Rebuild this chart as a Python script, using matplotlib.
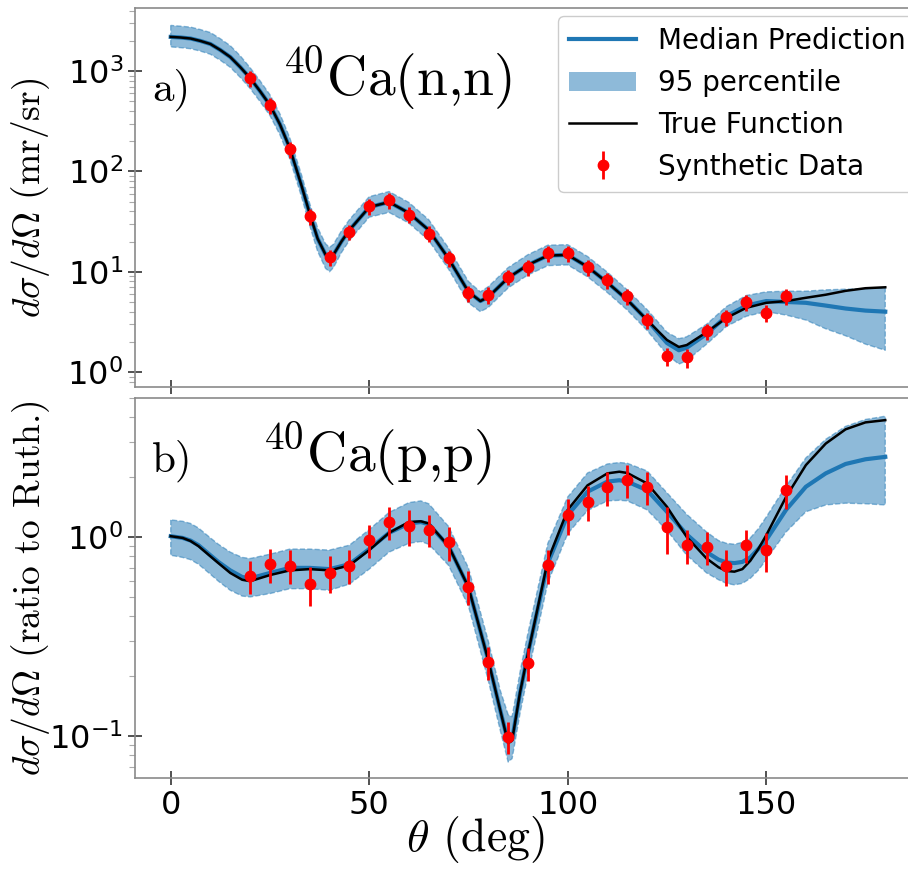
import numpy as np
import matplotlib
matplotlib.use("Agg")
import matplotlib.pyplot as plt
from matplotlib.lines import Line2D
from matplotlib.patches import Patch

# ---- a) 40Ca(n,n) ----
theta_a = [0, 2.5, 5, 7.5, 10, 12.5, 15, 17.5, 20, 22.5, 25, 27.5, 30, 33, 35, 37, 39, 40,
           41, 43, 45, 50, 55, 60, 65, 70, 75, 78, 80, 85, 90, 95, 100, 105, 110, 115,
           120, 125, 128, 130, 135, 140, 145, 150, 155, 160, 165, 170, 175, 180]
true_a = [2190, 2160, 2110, 1995, 1860, 1620, 1380, 1096, 851, 630, 457, 295, 170, 71, 38,
          21.4, 14.8, 13.8, 14.8, 20, 26, 44, 49.5, 38.5, 26, 13.5, 6.3, 5.1, 5.6, 8.7,
          11.7, 14.5, 14.7, 11.2, 7.8, 5.25, 3.3, 2.09, 1.78, 1.86, 2.5, 3.47, 4.37, 4.9,
          5.1, 5.5, 5.9, 6.45, 6.85, 7.0]
med_a = [2190, 2160, 2110, 1995, 1860, 1620, 1380, 1096, 851, 630, 457, 295, 170, 71, 38,
         21.4, 14.8, 13.8, 14.8, 20, 26, 44, 49.5, 38.5, 26, 13.5, 6.3, 5.1, 5.6, 8.7,
         11.7, 14.5, 14.7, 11.2, 7.8, 5.25, 3.3, 1.95, 1.65, 1.75, 2.4, 3.6, 4.6, 5.1,
         5.0, 4.9, 4.6, 4.3, 4.1, 4.0]
lo_a = [1740, 1710, 1670, 1580, 1470, 1280, 1090, 866, 670, 497, 360, 232, 133, 55, 29,
        16, 10.8, 10, 11, 15.5, 20.5, 35, 39, 30.5, 20.5, 10.6, 4.9, 4.0, 4.4, 6.9, 9.3,
        11.5, 11.7, 8.9, 6.2, 4.15, 2.6, 1.5, 1.2, 1.3, 1.9, 2.85, 3.6, 4.0, 3.7, 3.3,
        2.7, 2.3, 1.9, 1.65]
hi_a = [2850, 2800, 2740, 2590, 2420, 2100, 1790, 1420, 1080, 800, 580, 375, 216, 91, 48,
        27.5, 19, 17.5, 18.8, 25.5, 33, 56, 63, 49, 33, 17.2, 8.0, 6.3, 7.1, 11, 14.8,
        18.4, 18.6, 14.2, 9.9, 6.6, 4.2, 2.5, 2.15, 2.25, 3.0, 4.5, 5.8, 6.3, 6.4, 6.4,
        6.6, 6.7, 6.8, 6.9]
data_x = [20, 25, 30, 35, 40, 45, 50, 55, 60, 65, 70, 75, 80, 85, 90, 95, 100, 105,
          110, 115, 120, 125, 130, 135, 140, 145, 150, 155]
data_a = [850, 460, 167, 36, 14, 25, 45, 52, 37, 24, 13.7, 6.1, 5.9, 8.9, 11.1, 15.4,
          15.4, 11.1, 8.3, 5.7, 3.3, 1.44, 1.41, 2.57, 3.5, 5.0, 3.9, 5.7]
err_a = [150, 85, 30, 6.5, 2.6, 4.5, 8, 9.5, 6.7, 4.3, 2.5, 1.1, 1.1, 1.6, 2.0, 2.8,
         2.8, 2.0, 1.5, 1.0, 0.6, 0.3, 0.3, 0.46, 0.63, 0.9, 0.75, 1.0]

# ---- b) 40Ca(p,p) ----
theta_b = [0, 3, 5, 7, 10, 12, 15, 18, 20, 25, 30, 35, 40, 45, 50, 55, 60, 63, 65, 70,
           75, 80, 83, 85, 86, 88, 90, 95, 100, 105, 110, 113, 115, 120, 125, 130, 135,
           138, 140, 142, 144, 146, 148, 150, 155, 160, 165, 170, 175, 180]
true_b = [1.01, 0.99, 0.955, 0.90, 0.80, 0.74, 0.66, 0.61, 0.60, 0.644, 0.68, 0.69, 0.68,
          0.72, 0.86, 1.05, 1.19, 1.20, 1.17, 0.90, 0.56, 0.24, 0.135, 0.092, 0.095,
          0.166, 0.26, 0.765, 1.37, 1.82, 2.09, 2.13, 2.10, 1.86, 1.42, 1.0, 0.78, 0.705,
          0.675, 0.67, 0.69, 0.76, 0.87, 1.02, 1.59, 2.30, 2.95, 3.48, 3.77, 3.87]
med_b = [1.01, 0.99, 0.96, 0.91, 0.81, 0.75, 0.68, 0.63, 0.62, 0.66, 0.70, 0.70, 0.69,
         0.73, 0.87, 1.05, 1.17, 1.19, 1.16, 0.90, 0.56, 0.24, 0.135, 0.093, 0.096,
         0.165, 0.26, 0.74, 1.29, 1.69, 1.90, 1.93, 1.90, 1.72, 1.34, 1.03, 0.84, 0.77,
         0.745, 0.74, 0.75, 0.79, 0.87, 0.966, 1.37, 1.79, 2.09, 2.33, 2.46, 2.53]
lo_b = [0.81, 0.79, 0.77, 0.73, 0.65, 0.60, 0.54, 0.505, 0.50, 0.52, 0.55, 0.55, 0.54,
        0.58, 0.69, 0.84, 0.93, 0.95, 0.92, 0.72, 0.45, 0.19, 0.107, 0.074, 0.077,
        0.13, 0.205, 0.59, 1.04, 1.36, 1.52, 1.53, 1.52, 1.37, 1.08, 0.81, 0.66, 0.61,
        0.585, 0.575, 0.585, 0.62, 0.68, 0.77, 1.06, 1.34, 1.45, 1.48, 1.47, 1.45]
hi_b = [1.22, 1.20, 1.17, 1.11, 0.99, 0.92, 0.84, 0.79, 0.78, 0.82, 0.87, 0.87, 0.86,
        0.91, 1.09, 1.33, 1.49, 1.52, 1.47, 1.13, 0.70, 0.30, 0.17, 0.128, 0.125, 0.21,
        0.33, 0.93, 1.59, 2.10, 2.33, 2.37, 2.35, 2.15, 1.67, 1.30, 1.06, 0.96, 0.93,
        0.92, 0.94, 0.99, 1.10, 1.26, 1.80, 2.50, 3.10, 3.60, 3.90, 4.05]
data_b = [0.637, 0.729, 0.718, 0.578, 0.662, 0.718, 0.966, 1.19, 1.13, 1.09, 0.94, 0.563,
          0.236, 0.099, 0.233, 0.723, 1.29, 1.50, 1.78, 1.93, 1.79, 1.12, 0.91, 0.89,
          0.715, 0.91, 0.86, 1.72]
err_b = [0.12, 0.14, 0.14, 0.13, 0.14, 0.14, 0.18, 0.22, 0.23, 0.20, 0.18, 0.11,
         0.045, 0.018, 0.045, 0.14, 0.26, 0.30, 0.34, 0.36, 0.34, 0.30, 0.18, 0.17,
         0.15, 0.17, 0.19, 0.33]

W, H = 908, 869
fig = plt.figure(figsize=(W / 100, H / 100), dpi=100)

# axes placed in pixels; the right spine lies past the image edge, as in the reference
def px_axes(l, t, r, b):
    return fig.add_axes([l / W, 1 - b / H, (r - l) / W, (b - t) / H])

ax1 = px_axes(135, 8, 921, 387)
ax2 = px_axes(135, 398, 921, 778)

blue = "#1f77b4"
spine_col = "#8a8a8a"
serif = dict(fontfamily="cmr10", math_fontfamily="cm")


def draw(ax, th, true, med, lo, hi, dy, de):
    ax.fill_between(th, lo, hi, color=blue, alpha=0.5, linestyle="--",
                    edgecolor=blue, linewidth=1.0)
    ax.plot(th, med, color=blue, lw=3)
    ax.plot(th, true, color="black", lw=1.8)
    ax.errorbar(data_x, dy, yerr=de, fmt="o", color="red", ms=7.5,
                elinewidth=2, capsize=0, zorder=5)
    ax.set_yscale("log")
    ax.set_xlim(-9, 189)
    ax.set_xticks([0, 50, 100, 150])
    ax.tick_params(axis="both", which="major", labelsize=23, direction="inout",
                   length=10, width=1.2, color="#333333")
    ax.tick_params(axis="y", which="minor", length=4, width=0.8, color="#aaaaaa")
    for s in ax.spines.values():
        s.set_color(spine_col)
        s.set_linewidth(1.2)


draw(ax1, theta_a, true_a, med_a, lo_a, hi_a, data_a, err_a)
draw(ax2, theta_b, true_b, med_b, lo_b, hi_b, data_b, err_b)

ax1.set_ylim(0.71, 4250)
ax2.set_ylim(0.0615, 5.0)
ax1.tick_params(axis="x", labelbottom=False)

ax1.set_ylabel(r"$d\sigma/d\Omega$ (mr/sr)", fontsize=27, **serif)
ax2.set_ylabel(r"$d\sigma/d\Omega$ (ratio to Ruth.)", fontsize=27, **serif)
ax2.set_xlabel(r"$\theta$ (deg)", fontsize=33, **serif)
ax1.yaxis.set_label_coords(-0.105, 0.5)
ax2.yaxis.set_label_coords(-0.105, 0.5)
ax2.xaxis.set_label_coords(0.433, -0.095)

ax1.text(0.022, 0.755, "a)", transform=ax1.transAxes, fontsize=31, **serif)
ax1.text(0.187, 0.77, r"$^{40}$Ca(n,n)", transform=ax1.transAxes, fontsize=40, **serif)
ax2.text(0.022, 0.805, "b)", transform=ax2.transAxes, fontsize=31, **serif)
ax2.text(0.162, 0.805, r"$^{40}$Ca(p,p)", transform=ax2.transAxes, fontsize=40, **serif)

handles = [Line2D([], [], color=blue, lw=3),
           Patch(facecolor=blue, alpha=0.5, edgecolor="none"),
           Line2D([], [], color="black", lw=1.8),
           ax1.containers[0]]
labels = ["Median Prediction", "95 percentile", "True Function", "Synthetic Data"]
ax1.legend(handles, labels, loc="upper right", fontsize=20, handlelength=2.4,
           handletextpad=0.8, borderaxespad=0.0, bbox_to_anchor=(0.995, 0.979),
           framealpha=1, edgecolor="#cccccc")

fig.savefig("out.png", dpi=100)
